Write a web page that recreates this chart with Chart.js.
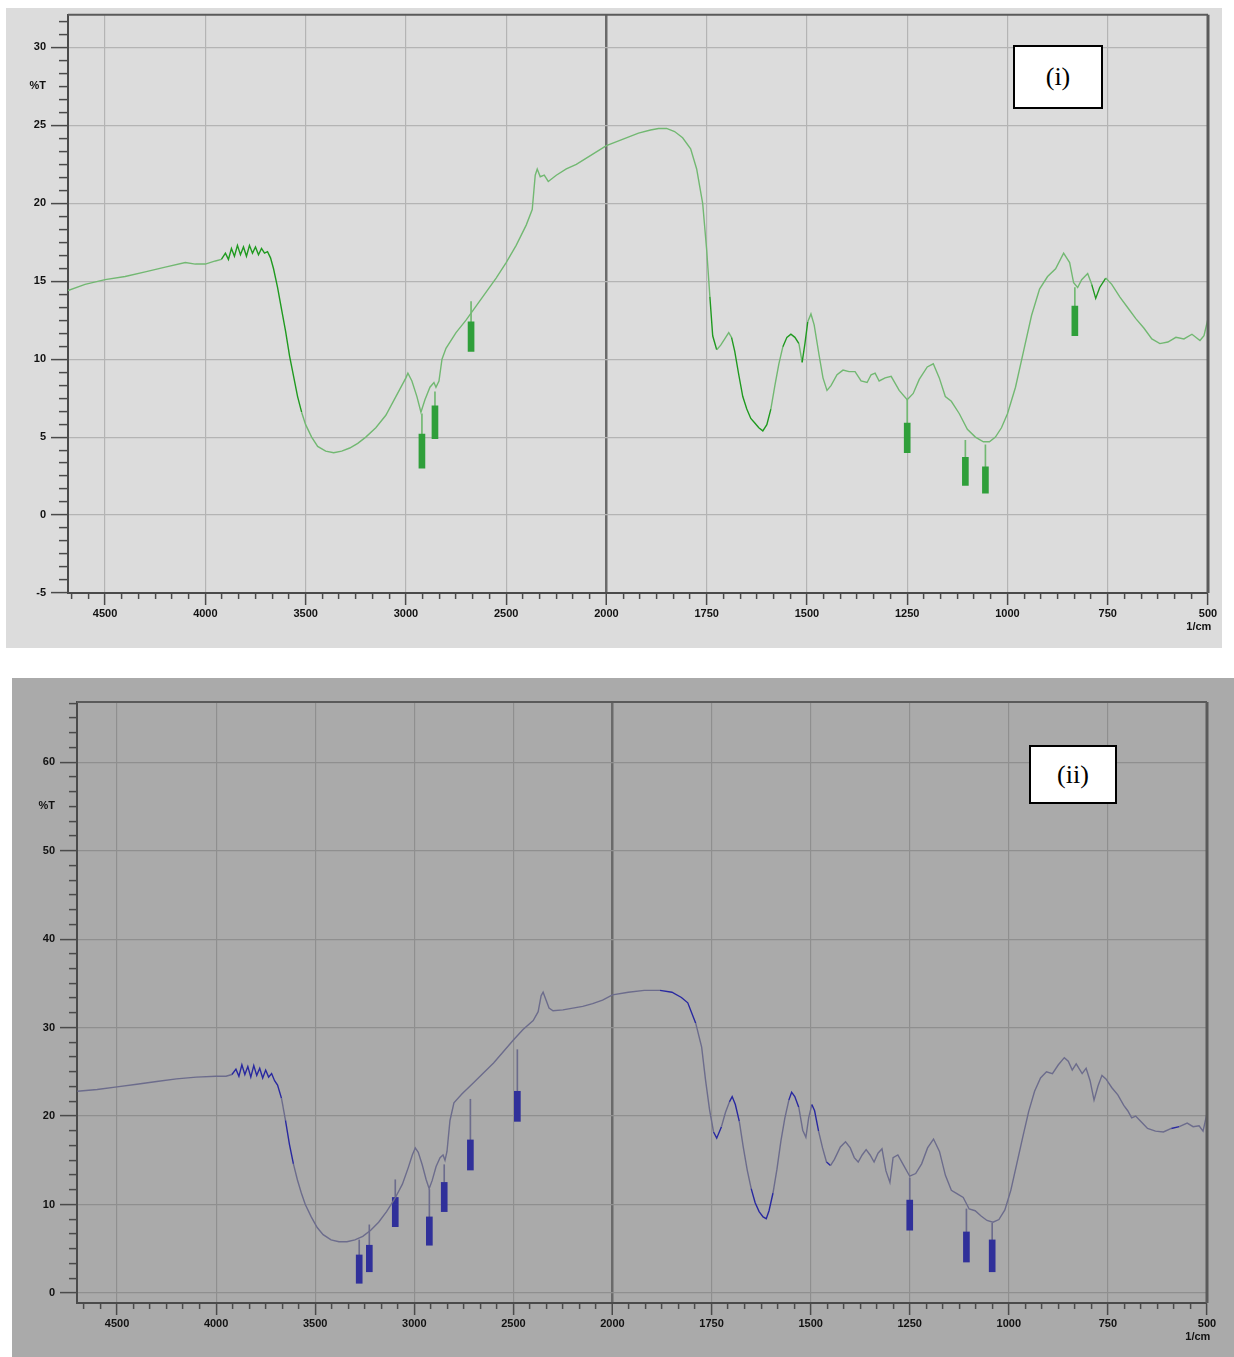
<!DOCTYPE html>
<html>
<head>
<meta charset="utf-8">
<script src="https://cdn.jsdelivr.net/npm/chart.js@4.4.1/dist/chart.umd.min.js"></script>
<style>
  body { margin: 0; background: #fff; width: 1234px; height: 1357px; position: relative; overflow: hidden; }
  .panel { position: absolute; }
  .tag { position: absolute; background: #fff; border: 2px solid #000; font-family: "Liberation Serif", "DejaVu Serif", serif; font-size: 26px; color: #000; text-align: center; box-sizing: border-box; }
</style>
</head>
<body>
<div class="panel" id="p1" style="left:6px; top:8px; width:1216px; height:640px; background:#dcdcdc;"><canvas id="c1"></canvas></div>
<div class="panel" id="p2" style="left:12px; top:678px; width:1222px; height:679px; background:#aaaaaa;"><canvas id="c2"></canvas></div>
<div class="tag" style="left:1013px; top:45px; width:90px; height:64px; line-height:60px;">(i)</div>
<div class="tag" style="left:1029px; top:745px; width:88px; height:59px; line-height:55px;">(ii)</div>
<script>
// ---- spectrum (i) ----
var wn1 = [4685, 4600, 4500, 4400, 4300, 4200, 4100, 4050, 4000, 3950, 3920, 3900, 3885, 3870, 3855, 3840, 3825, 3810, 3795, 3780, 3765, 3750, 3735, 3720, 3705, 3690, 3675, 3660, 3640, 3620, 3600, 3580, 3560, 3540, 3520, 3500, 3470, 3440, 3400, 3360, 3320, 3280, 3240, 3200, 3150, 3100, 3050, 3000, 2990, 2970, 2945, 2925, 2905, 2880, 2860, 2850, 2835, 2820, 2800, 2750, 2700, 2650, 2600, 2550, 2500, 2450, 2400, 2370, 2355, 2345, 2330, 2310, 2290, 2250, 2200, 2150, 2100, 2050, 2000, 1960, 1920, 1890, 1870, 1850, 1830, 1810, 1790, 1775, 1760, 1750, 1742, 1735, 1725, 1715, 1705, 1695, 1688, 1680, 1670, 1660, 1650, 1640, 1630, 1620, 1610, 1600, 1590, 1580, 1570, 1560, 1550, 1540, 1530, 1520, 1512, 1505, 1498, 1490, 1482, 1470, 1460, 1450, 1440, 1425, 1410, 1395, 1380, 1365, 1350, 1340, 1330, 1320, 1305, 1290, 1270, 1250, 1235, 1220, 1200, 1185, 1170, 1155, 1140, 1120, 1100, 1080, 1060, 1045, 1030, 1015, 1000, 980, 960, 940, 920, 900, 880, 860, 845, 835, 825, 815, 800, 790, 780, 770, 755, 740, 720, 700, 680, 660, 640, 620, 600, 580, 560, 540, 520, 510, 500];
var t1 = [14.4, 14.8, 15.1, 15.3, 15.6, 15.9, 16.2, 16.1, 16.1, 16.3, 16.4, 16.8, 16.4, 17.1, 16.6, 17.3, 16.7, 17.2, 16.6, 17.3, 16.8, 17.2, 16.7, 17.1, 16.8, 16.9, 16.5, 15.8, 14.6, 13.2, 11.8, 10.2, 8.9, 7.6, 6.6, 5.8, 5.0, 4.4, 4.1, 4.0, 4.1, 4.3, 4.6, 5.0, 5.6, 6.4, 7.6, 8.8, 9.1, 8.6, 7.6, 6.6, 7.4, 8.2, 8.5, 8.2, 8.6, 10.0, 10.7, 11.7, 12.5, 13.4, 14.3, 15.2, 16.2, 17.3, 18.6, 19.6, 21.8, 22.2, 21.7, 21.8, 21.4, 21.8, 22.2, 22.5, 22.9, 23.3, 23.7, 24.1, 24.5, 24.7, 24.8, 24.8, 24.6, 24.2, 23.5, 22.2, 20.0, 17.0, 14.0, 11.5, 10.6, 10.9, 11.3, 11.7, 11.4, 10.5, 9.0, 7.6, 6.8, 6.2, 5.9, 5.6, 5.4, 5.8, 6.8, 8.3, 9.7, 10.8, 11.4, 11.6, 11.4, 11.0, 9.8, 11.0, 12.4, 12.9, 12.2, 10.3, 8.8, 8.0, 8.3, 9.0, 9.3, 9.2, 9.2, 8.6, 8.5, 9.0, 9.1, 8.6, 8.8, 8.9, 8.0, 7.4, 7.8, 8.7, 9.5, 9.7, 8.8, 7.6, 7.3, 6.5, 5.5, 5.0, 4.7, 4.7, 5.0, 5.6, 6.5, 8.2, 10.5, 12.8, 14.5, 15.3, 15.8, 16.8, 16.2, 14.9, 14.6, 15.1, 15.5, 14.8, 13.9, 14.6, 15.2, 14.8, 14.0, 13.3, 12.6, 12.0, 11.3, 11.0, 11.1, 11.4, 11.3, 11.6, 11.2, 11.5, 12.6];
// peak labels: wavenumber, curve level, label top, label bottom
var pk1_wn = [2920, 2855, 2675, 1250, 1105, 1055, 832];
var pk1_top = [6.5, 7.9, 13.7, 7.4, 4.8, 4.5, 14.6];
var pk1_hi = [5.2, 7.0, 12.4, 5.9, 3.7, 3.1, 13.4];
var pk1_lo = [3.0, 4.9, 10.5, 4.0, 1.9, 1.4, 11.5];

// ---- spectrum (ii) ----
var wn2 = [4700, 4600, 4500, 4400, 4300, 4200, 4100, 4000, 3950, 3920, 3900, 3885, 3870, 3855, 3840, 3825, 3810, 3795, 3780, 3765, 3750, 3735, 3720, 3705, 3690, 3670, 3650, 3630, 3610, 3590, 3570, 3550, 3520, 3490, 3460, 3420, 3380, 3340, 3300, 3260, 3220, 3180, 3140, 3100, 3060, 3030, 3010, 2995, 2980, 2960, 2940, 2925, 2910, 2890, 2870, 2855, 2845, 2835, 2820, 2800, 2760, 2700, 2650, 2600, 2550, 2500, 2450, 2400, 2375, 2360, 2350, 2340, 2320, 2300, 2250, 2200, 2150, 2100, 2050, 2000, 1960, 1920, 1880, 1850, 1826, 1810, 1790, 1775, 1765, 1755, 1745, 1737, 1725, 1715, 1705, 1698, 1690, 1680, 1670, 1660, 1650, 1640, 1630, 1620, 1612, 1605, 1595, 1585, 1575, 1565, 1555, 1548, 1540, 1530, 1520, 1512, 1505, 1497, 1490, 1480, 1470, 1460, 1450, 1440, 1425, 1412, 1400, 1390, 1380, 1370, 1360, 1350, 1340, 1330, 1320, 1310, 1300, 1292, 1280, 1265, 1250, 1235, 1220, 1205, 1190, 1175, 1160, 1145, 1130, 1115, 1100, 1085, 1070, 1055, 1040, 1025, 1010, 995, 980, 965, 950, 935, 920, 905, 890, 875, 860, 850, 840, 830, 815, 805, 795, 785, 775, 765, 755, 740, 725, 710, 700, 690, 680, 665, 650, 630, 610, 590, 570, 550, 535, 520, 510, 500];
var t2 = [22.8, 23.0, 23.3, 23.6, 23.9, 24.2, 24.4, 24.5, 24.5, 24.7, 25.3, 24.5, 25.8, 24.7, 25.6, 24.4, 25.7, 24.6, 25.4, 24.3, 25.2, 24.4, 24.8, 24.0, 23.5, 22.0, 19.5, 16.8, 14.6, 12.8, 11.3, 10.0, 8.6, 7.4, 6.6, 6.0, 5.8, 5.8, 6.0, 6.4, 7.1, 8.0, 9.2, 10.6, 12.3, 14.2, 15.6, 16.4, 15.9, 14.5, 12.8, 11.8, 12.7, 14.3, 15.3, 15.6, 15.0, 16.0, 19.5, 21.5, 22.5, 23.8, 24.9, 26.0, 27.3, 28.6, 29.8, 30.8, 31.8, 33.6, 34.0, 33.4, 32.2, 31.9, 32.0, 32.2, 32.4, 32.7, 33.1, 33.7, 34.0, 34.2, 34.2, 34.0, 33.4, 32.8, 30.5, 27.8, 24.0, 20.7, 18.2, 17.5, 18.8, 20.4, 21.6, 22.2, 21.3, 19.4, 16.5, 13.9, 11.8, 10.2, 9.2, 8.6, 8.4, 9.3, 11.3, 14.0, 17.2, 19.8, 21.8, 22.7, 22.2, 21.0, 18.4, 17.6, 19.8, 21.3, 20.6, 18.3, 16.4, 14.8, 14.4, 15.1, 16.5, 17.1, 16.4, 15.3, 14.8, 15.6, 16.2, 15.6, 14.8, 15.8, 16.3, 13.8, 12.5, 15.3, 15.6, 14.4, 13.2, 13.5, 14.6, 16.4, 17.4, 16.0, 13.3, 11.6, 11.2, 10.8, 9.5, 9.3, 8.7, 8.2, 8.0, 8.3, 9.4, 11.6, 14.6, 17.6, 20.5, 22.8, 24.3, 25.0, 24.8, 25.8, 26.6, 26.2, 25.2, 25.9, 24.8, 25.4, 24.0, 21.8, 23.4, 24.6, 24.2, 23.2, 22.4, 21.2, 20.6, 19.8, 20.0, 19.3, 18.6, 18.3, 18.2, 18.6, 18.8, 19.2, 18.8, 18.9, 18.3, 20.3];
var pk2_wn = [3278, 3227, 3096, 2924, 2849, 2717, 2480, 1250, 1107, 1042];
var pk2_top = [6.0, 7.7, 12.8, 11.7, 14.5, 21.9, 27.5, 13.0, 9.5, 7.9];
var pk2_hi = [4.3, 5.4, 10.8, 8.6, 12.5, 17.3, 22.8, 10.5, 6.9, 6.0];
var pk2_lo = [1.1, 2.4, 7.5, 5.4, 9.2, 13.9, 19.4, 7.1, 3.5, 2.4];

// axis tick labels
var xMajor = [4500, 4000, 3500, 3000, 2500, 2000, 1750, 1500, 1250, 1000, 750, 500];

// wavenumber axis: 500 per step above 2000, 250 per step below
var SPLIT = 2000;
function wnPos(v) {
    return v >= SPLIT ? (SPLIT - v) / 500 : (SPLIT - v) / 250;
}

class SplitScale extends Chart.LinearScale {
    getPixelForValue(value) {
        var p0 = wnPos(this.max), p1 = wnPos(this.min);
        return this.getPixelForDecimal((wnPos(value) - p0) / (p1 - p0));
    }
    getValueForPixel(pixel) {
        var p0 = wnPos(this.max), p1 = wnPos(this.min);
        var p = p0 + this.getDecimalForPixel(pixel) * (p1 - p0);
        return p <= 0 ? SPLIT - p * 500 : SPLIT - p * 250;
    }
}
SplitScale.id = 'split';
SplitScale.defaults = Chart.LinearScale.defaults;
Chart.register(SplitScale);

// major ticks with 5 minor ticks between (6 sub-steps)
function xTicks(max) {
    var out = [];
    for (var i = 0; i < xMajor.length; i++) {
        var v = xMajor[i];
        out.push({value: v, m: true, lab: v == 500 ? ['500', '1/cm      '] : String(v)});
        var step = v > SPLIT ? 500 : 250;
        if (i == 0) {
            for (var k = 1; v + k * step / 6 <= max; k++) out.push({value: v + k * step / 6, m: false, lab: ''});
        }
        if (v > 500) {
            for (var k = 1; k < 6; k++) out.push({value: v - k * step / 6, m: false, lab: ''});
        }
    }
    return out.sort(function (a, b) { return a.value - b.value; });
}

function yTicks(min, max, step, pctAt) {
    var out = [];
    var start = Math.ceil(min / (step / 6) - 1e-6);
    for (var k = start; k * step / 6 <= max + 1e-6; k++) {
        var v = k * step / 6;
        var isMajor = k % 6 == 0;
        var lab = isMajor ? String(Math.round(v)) : '';
        if (Math.abs(v - pctAt) < 1e-6) lab = '%T';
        out.push({value: v, m: isMajor, lab: lab});
    }
    return out;
}

function pts(xs, ys) {
    return xs.map(function (x, i) { return {x: x, y: ys[i]}; });
}
function bars(xs, lo, hi) {
    return xs.map(function (x, i) { return {x: x, y: [lo[i], hi[i]]}; });
}

var TICK = '#4a4a4a';
// minor ticks: only the half of the tick next to the axis is painted
function tickPaint(c, vertical) {
    if (!c.tick || c.tick.m) return TICK;
    var a = c.chart.chartArea, ctx = c.chart.ctx, g;
    if (vertical) {
        g = ctx.createLinearGradient(0, a.bottom, 0, a.bottom + 12);
        g.addColorStop(0, TICK); g.addColorStop(0.5, TICK);
        g.addColorStop(0.5, 'rgba(0,0,0,0)'); g.addColorStop(1, 'rgba(0,0,0,0)');
    } else {
        g = ctx.createLinearGradient(a.left - 17, 0, a.left, 0);
        g.addColorStop(0, 'rgba(0,0,0,0)'); g.addColorStop(0.5, 'rgba(0,0,0,0)');
        g.addColorStop(0.5, TICK); g.addColorStop(1, TICK);
    }
    return g;
}

// draws the top and right edge of the plot frame
var framePlugin = {
    id: 'frame',
    afterDraw: function (chart) {
        var a = chart.chartArea, ctx = chart.ctx;
        ctx.save();
        ctx.strokeStyle = '#5a5a5a';
        ctx.lineWidth = 2;
        ctx.beginPath();
        ctx.moveTo(a.left, a.top);
        ctx.lineTo(a.right, a.top);
        ctx.stroke();
        ctx.lineWidth = 3;
        ctx.beginPath();
        ctx.moveTo(a.right, a.top);
        ctx.lineTo(a.right, a.bottom);
        ctx.stroke();
        ctx.restore();
    }
};

function makeChart(canvas, cfg) {
    var dark = function (ctx) {
        var x = ctx.p0.parsed.x;
        for (var r of cfg.noisy) {
            if (x <= r[0] && x >= r[1]) return cfg.noiseColor;
        }
        return cfg.lineColor;
    };
    return new Chart(canvas, {
        type: 'line',
        data: {
            datasets: [
                {
                    data: pts(cfg.wn, cfg.t),
                    borderColor: cfg.lineColor,
                    borderWidth: 1.4,
                    pointRadius: 0,
                    tension: 0,
                    segment: {borderColor: dark},
                    order: 0
                },
                {
                    type: 'bar',
                    data: bars(cfg.pkWn, cfg.pkHi, cfg.pkTop),
                    backgroundColor: cfg.lineColor,
                    barThickness: 1,
                    grouped: false,
                    order: 2
                },
                {
                    type: 'bar',
                    data: bars(cfg.pkWn, cfg.pkLo, cfg.pkHi),
                    backgroundColor: cfg.markColor,
                    barThickness: 6,
                    grouped: false,
                    order: 1
                }
            ]
        },
        options: {
            animation: false,
            responsive: true,
            maintainAspectRatio: false,
            layout: {padding: cfg.pad},
            plugins: {legend: {display: false}, tooltip: {enabled: false}},
            scales: {
                x: {
                    type: 'split',
                    min: 500,
                    max: cfg.xMax,
                    offset: false,
                    afterBuildTicks: function (s) { s.ticks = xTicks(cfg.xMax); },
                    afterFit: function (s) { s.height = cfg.xH; },
                    grid: {
                        offset: false,
                        color: function (c) {
                            if (!c.tick || !c.tick.m) return 'rgba(0,0,0,0)';
                            return c.tick.value == SPLIT ? '#6a6a6a' : cfg.gridColor;
                        },
                        lineWidth: function (c) { return c.tick && c.tick.value == SPLIT ? 2.5 : 1.2; },
                        tickColor: function (c) { return tickPaint(c, true); },
                        tickLength: 12,
                        tickWidth: 1.5
                    },
                    border: {display: true, color: TICK, width: 2},
                    ticks: {
                        autoSkip: false,
                        maxRotation: 0,
                        padding: 2,
                        color: '#111',
                        font: {family: 'Liberation Sans', size: 11, weight: 'bold', lineHeight: 1.2},
                        callback: function (v, i, ticks) { return ticks[i].lab; }
                    }
                },
                y: {
                    min: cfg.yMin,
                    max: cfg.yMax,
                    afterBuildTicks: function (s) { s.ticks = yTicks(cfg.yMin, cfg.yMax, cfg.yStep, cfg.pctAt); },
                    afterFit: function (s) { s.width = cfg.yW; },
                    grid: {
                        color: function (c) { return c.tick && c.tick.m ? cfg.gridColor : 'rgba(0,0,0,0)'; },
                        lineWidth: 1.2,
                        tickColor: function (c) { return tickPaint(c, false); },
                        tickLength: 17,
                        tickWidth: 1.5
                    },
                    border: {display: true, color: TICK, width: 2},
                    ticks: {
                        autoSkip: false,
                        padding: 5,
                        color: '#111',
                        font: {family: 'Liberation Sans', size: 11, weight: 'bold', lineHeight: 0.3},
                        callback: function (v, i, ticks) { return ticks[i].lab; }
                    }
                }
            }
        },
        plugins: [framePlugin]
    });
}

makeChart(document.getElementById('c1'), {
    wn: wn1, t: t1, pkWn: pk1_wn, pkTop: pk1_top, pkHi: pk1_hi, pkLo: pk1_lo,
    xMax: 4685, yMin: -5, yMax: 32.1, yStep: 5, pctAt: 27.5,
    lineColor: '#72b872', noiseColor: '#1f9a1f', markColor: '#2f9f3a',
    gridColor: '#b4b4b4',
    noisy: [[3920, 3540], [1745, 1735], [1690, 1600], [1560, 1530], [1515, 1505], [790, 760]],
    pad: {left: 0, top: 5, right: 14, bottom: 0}, yW: 62, xH: 55
});

makeChart(document.getElementById('c2'), {
    wn: wn2, t: t2, pkWn: pk2_wn, pkTop: pk2_top, pkHi: pk2_hi, pkLo: pk2_lo,
    xMax: 4702, yMin: -1.13, yMax: 66.8, yStep: 10, pctAt: 55,
    lineColor: '#6c6c8c', noiseColor: '#2828a0', markColor: '#30309a',
    gridColor: '#8f8f8f',
    noisy: [[3920, 3690], [3650, 3620], [1900, 1800], [1745, 1730], [1705, 1690], [1650, 1600], [1560, 1540], [1500, 1490], [1465, 1455], [600, 580]],
    pad: {left: 0, top: 24, right: 27, bottom: 0}, yW: 65, xH: 54
});
</script>
</body>
</html>
